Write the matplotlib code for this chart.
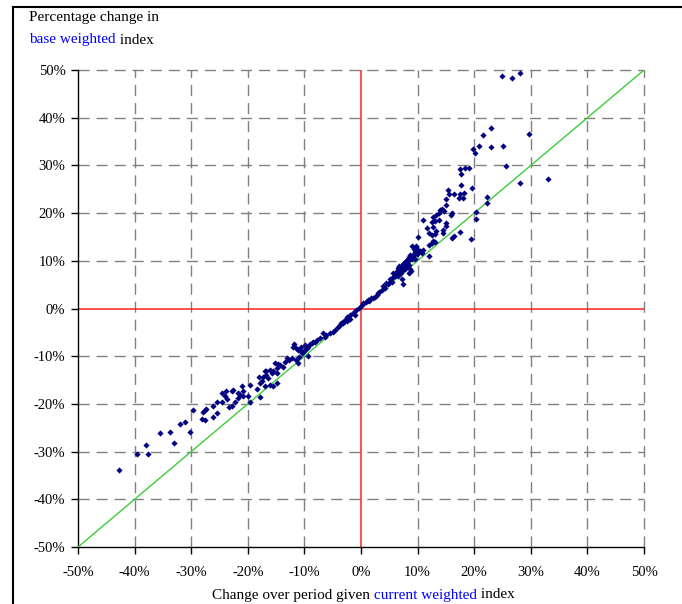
import numpy as np
import matplotlib
matplotlib.use("Agg")
import matplotlib.pyplot as plt
from matplotlib.lines import Line2D
from matplotlib.ticker import FuncFormatter

plt.rcParams['font.family'] = ['Liberation Serif', 'DejaVu Serif']

# change (%) under current weighted index vs base weighted index
current = [
    24.9, 26.6, 28.1,
    23.0, 21.6, 29.7, 20.8, 19.8, 20.1, 22.9, 25.1, 25.7,
    17.5, 18.3, 19.0, 17.6, 33.0,
    17.6, 15.4, 15.5, 16.5, 17.5, 17.4, 18.1, 18.2, 19.6, 22.3, 22.3, 28.1,
    15.0, 15.1, 14.3, 14.0, 14.7, 13.8, 13.3, 12.8, 12.6, 13.1, 13.8,
    16.1, 15.9, 10.9, 15.1, 15.1, 20.4, 20.4, 11.7, 12.8, 13.3,
    12.1, 12.5, 13.0, 12.8, 12.5, 13.0, 14.5, 14.5, 17.5, 16.5, 16.0, 19.4, 10.0, 12.1,
    9.0, 9.7, 9.4, 10.1, 10.4, 10.9, 10.7, 10.1, 8.7, 9.1, 9.5, 12.1,
    8.1, 7.6, 8.4, 7.2, 8.0, 8.7, 7.5,
    9.7, 10.3, 9.9, 9.1, 8.4, 9.0, 8.5, 7.5, 7.8, 6.9, 6.6, 7.0, 6.3, 6.0, 6.6,
    5.7, 7.2, 7.4, 5.1, 5.4, 4.5, 4.8, 3.9, 4.2, 3.7, 3.2, 2.8, 2.2, 1.7, 1.3,
    0.9, 0.4, 0.1, -0.3, -0.8, -1.4, -1.9, -2.4, -2.8, -3.2, -3.5,
    8.4, 8.8, 5.7, 6.3, 6.6, 6.8, 7.9, 8.2, 6.2, 5.0, 3.0, 2.5, 1.5, 9.5,
    -1.1, -1.9, -2.5, -3.1, -3.7, -4.0, -4.6, -4.9, -5.5, -6.1, -6.4, -6.7,
    -7.2, -7.7, -8.1, -8.7, -9.0, -9.3, -9.6, -9.9, -10.2, -10.8, -11.1, -10.5,
    -9.3, -10.9, -11.4, -11.2, -12.2, -12.8, -13.4, -13.7, -14.3, -15.2, -14.9,
    -15.5, -16.1, -16.7, -16.8, -17.3, -17.5, -16.1, -15.5,
    -14.6, -15.8, -17.0, -14.9, -18.1, -16.4, -17.8, -17.0, -14.9, -19.6, -21.1,
    -21.7, -21.4, -20.8, -19.9, -22.8, -22.7, -23.9, -24.6, -24.0, -23.7, -24.6,
    -25.5, -26.1, -23.4, -22.8, -22.3, -21.7, -18.4, -17.8, -19.6, -29.7, -27.9,
    -27.6, -27.3, -25.5, -28.1, -27.6, -26.1, -31.1, -32.0, -30.2, -33.7, -35.6,
    -42.7, -39.6, -37.7, -38.0, -33.1,
    -12.0, -9.9, -8.4, -13.1, -20.8, -11.8, -11.5, -10.6,
]
base = [
    48.8, 48.4, 49.4,
    37.8, 36.4, 36.6, 34.1, 33.4, 32.6, 33.9, 34.1, 29.9,
    29.2, 29.5, 29.5, 28.3, 27.1,
    25.9, 24.9, 23.9, 23.9, 23.9, 23.1, 23.1, 24.2, 25.2, 23.4, 22.2, 26.4,
    23.0, 21.8, 20.9, 20.6, 20.5, 20.1, 19.6, 19.1, 18.2, 18.3, 18.5,
    20.0, 19.6, 18.6, 18.0, 17.2, 20.2, 18.8, 16.9, 17.1, 16.3,
    15.8, 15.4, 15.6, 14.2, 13.8, 14.0, 16.5, 15.8, 16.1, 15.3, 14.7, 14.6, 14.9, 13.3,
    13.1, 13.0, 12.5, 12.3, 12.1, 12.2, 11.6, 11.6, 11.2, 11.0, 10.3, 11.0,
    10.2, 9.6, 9.1, 8.8, 8.6, 8.2, 8.1,
    12.8, 11.8, 11.4, 11.2, 10.7, 10.4, 10.2, 9.3, 8.2, 8.1, 7.7, 7.4, 7.2, 6.8, 6.8,
    6.5, 6.1, 5.1, 6.1, 5.6, 5.4, 5.1, 4.7, 4.2, 3.9, 3.5, 2.8, 2.3, 2.1, 1.8,
    1.4, 1.1, 0.7, 0.2, -0.3, -0.9, -1.4, -1.8, -2.4, -2.8, -3.1,
    7.4, 7.9, 7.4, 7.9, 8.4, 8.9, 9.9, 9.5, 7.0, 5.4, 3.3, 2.5, 1.5, 11.8,
    -1.4, -2.1, -2.6, -3.0, -3.5, -3.9, -4.5, -4.9, -5.2, -5.6, -5.9, -5.1,
    -6.2, -6.6, -7.0, -7.2, -7.4, -8.0, -8.3, -8.7, -9.1, -8.7, -8.6, -9.4,
    -10.0, -10.1, -10.7, -11.5, -10.4, -10.8, -11.2, -12.2, -11.8, -11.5, -12.5,
    -13.2, -12.9, -13.2, -13.9, -14.3, -15.3, -16.0, -16.2,
    -11.6, -13.6, -13.2, -13.5, -14.3, -14.6, -15.7, -16.2, -15.6, -16.0, -16.2,
    -17.8, -18.1, -18.3, -18.3, -17.2, -17.1, -17.2, -17.8, -18.3, -19.0, -19.5,
    -19.5, -20.4, -20.6, -20.4, -19.7, -18.8, -16.9, -18.5, -19.5, -21.3, -21.6,
    -21.3, -21.1, -22.0, -23.2, -23.4, -22.8, -23.7, -24.2, -25.8, -25.8, -26.0,
    -33.9, -30.4, -30.4, -28.6, -28.1,
    -8.0, -7.7, -7.0, -10.4, -17.4, -7.5, -8.2, -8.0,
]
ticks = np.arange(-50, 51, 10)

fig = plt.figure(figsize=(6.82, 6.04), dpi=100)
ax = fig.add_axes([78 / 682, 1 - 547 / 604, 566 / 682, 477 / 604])

ax.set_xlim(-50, 50)
ax.set_ylim(-50, 50)
ax.set_xticks(ticks)
ax.set_yticks(ticks)
pct = FuncFormatter(lambda v, p: "%d%%" % v)
ax.xaxis.set_major_formatter(pct)
ax.yaxis.set_major_formatter(pct)
ax.tick_params(direction='out', length=5, width=1, labelsize=10.5)
ax.tick_params(axis='x', pad=9)
ax.tick_params(axis='y', pad=4)

# dashed grid, 0 lines drawn separately in red
for t in ticks:
    if t in (-50, 0):
        continue
    ax.axvline(t, color='#808080', lw=1, ls=(0, (8, 5)), zorder=1, clip_on=False)
    ax.axhline(t, color='#808080', lw=1, ls=(0, (8, 5)), zorder=1, clip_on=False)
ax.axvline(0, color='#ff2020', lw=1.1, zorder=2)
ax.axhline(0, color='#ff2020', lw=1.1, zorder=2)
ax.plot([-50, 50], [-50, 50], color='#3ccc3c', lw=1, zorder=3)

ax.scatter(current, base, marker='D', s=10, color='#000080', zorder=4, linewidths=0)

ax.spines['top'].set_visible(False)
ax.spines['right'].set_visible(False)
for s in ('left', 'bottom'):
    ax.spines[s].set_color('black')
    ax.spines[s].set_linewidth(1)

# y title in two lines, middle words in blue
fs = 11
t1 = fig.text(29 / 682, 1 - 18 / 604, "Percentage change in", fontsize=fs, va='center')
t2 = fig.text(29 / 682, 1 - 40 / 604, "base weighted", fontsize=fs, va='center', color='#0000ff')
ax.annotate(" index", xy=(1, 0), xycoords=t2, va='bottom', ha='left', fontsize=fs)

# x title
b1 = fig.text(212 / 682, 1 - 595 / 604, "Change over period given", fontsize=fs, va='center')
b2 = ax.annotate(" current weighted", xy=(1, 0), xycoords=b1, va='bottom', ha='left',
                 fontsize=fs, color='#0000ff')
ax.annotate(" index", xy=(1, 0), xycoords=b2, va='bottom', ha='left', fontsize=fs)

# outer frame
fig.add_artist(Line2D([12.5 / 682, 12.5 / 682], [0, 1 - 6.5 / 604], color='black', lw=1.5))
fig.add_artist(Line2D([12.5 / 682, 1], [1 - 6.5 / 604, 1 - 6.5 / 604], color='black', lw=1.5))

fig.savefig("out.png", dpi=100)
